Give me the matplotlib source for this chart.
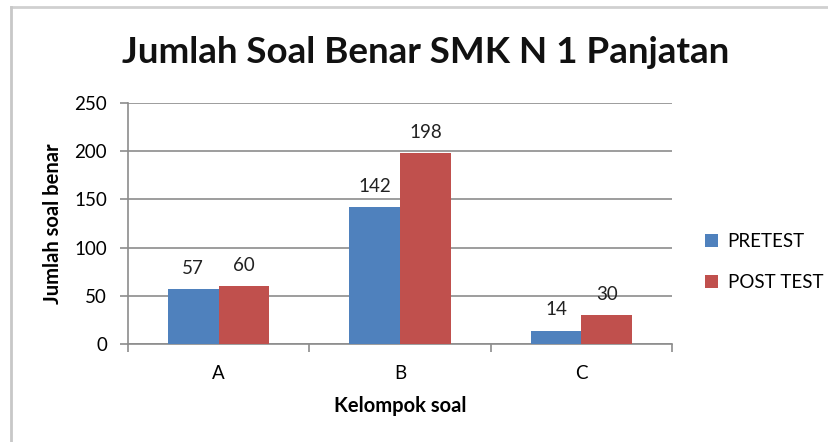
import matplotlib.pyplot as plt
import numpy as np
from matplotlib.lines import Line2D

# data
categories = ["A", "B", "C"]
pretest = [57, 142, 14]
posttest = [60, 198, 30]
series_names = ["PRETEST", "POST TEST"]

blue = "#4F81BD"
red = "#C0504D"
grid_col = "#8C8C8C"

plt.rcParams['font.family'] = ['Lato', 'DejaVu Sans']

fig = plt.figure(figsize=(8.29, 4.42), dpi=100)
ax = fig.add_axes([0.1544, 0.2217, 0.6562, 0.5453])

x = np.arange(len(categories))
w = 0.28
b1 = ax.bar(x - w / 2, pretest, w, color=blue, label=series_names[0], zorder=3)
b2 = ax.bar(x + w / 2, posttest, w, color=red, label=series_names[1], zorder=3)

for bars, vals in ((b1, pretest), (b2, posttest)):
    for rect, v in zip(bars, vals):
        ax.annotate(str(v), (rect.get_x() + rect.get_width() / 2, v),
                    xytext=(0, 9), textcoords="offset points",
                    ha="center", va="bottom", fontsize=13.5, color="#222222")

ax.set_xlim(-0.5, len(categories) - 0.5)
ax.set_ylim(0, 250)
ax.set_yticks(range(0, 251, 50))
ax.set_xticks(x)
ax.set_xticklabels(categories)
ax.set_xticks(np.arange(-0.5, len(categories), 1.0), minor=True)
ax.tick_params(axis="x", which="major", length=0, pad=15, labelsize=13.5)
ax.tick_params(axis="x", which="minor", length=6, color=grid_col, width=1.2)
ax.tick_params(axis="y", length=6, color=grid_col, width=1.2, pad=9, labelsize=13.5)
ax.yaxis.grid(True, color=grid_col, linewidth=1.2, zorder=0)

for s in ("top", "right"):
    ax.spines[s].set_visible(False)
for s in ("left", "bottom"):
    ax.spines[s].set_color(grid_col)
    ax.spines[s].set_linewidth(1.2)

ax.set_xlabel("Kelompok soal", fontsize=14.5, fontweight="bold", labelpad=10)
ax.set_ylabel("Jumlah soal benar", fontsize=14.5, fontweight="bold", labelpad=8)

fig.text(0.514, 0.882, "Jumlah Soal Benar SMK N 1 Panjatan", ha="center", va="center",
         fontsize=26.5, fontweight="bold", color="#111111")

ax.legend(loc="center left", bbox_to_anchor=(1.03, 0.34), frameon=False,
          fontsize=13.5, handlelength=0.7, handleheight=0.7, labelspacing=1.3,
          handletextpad=0.5)

# outer chart border (top and left visible)
fig.add_artist(Line2D([0.0133, 1.0], [0.984, 0.984], transform=fig.transFigure,
                      color="#D0D0D0", linewidth=2))
fig.add_artist(Line2D([0.0133, 0.0133], [0.0, 0.984], transform=fig.transFigure,
                      color="#C8C8C8", linewidth=2))

fig.savefig("out.png", dpi=100)
